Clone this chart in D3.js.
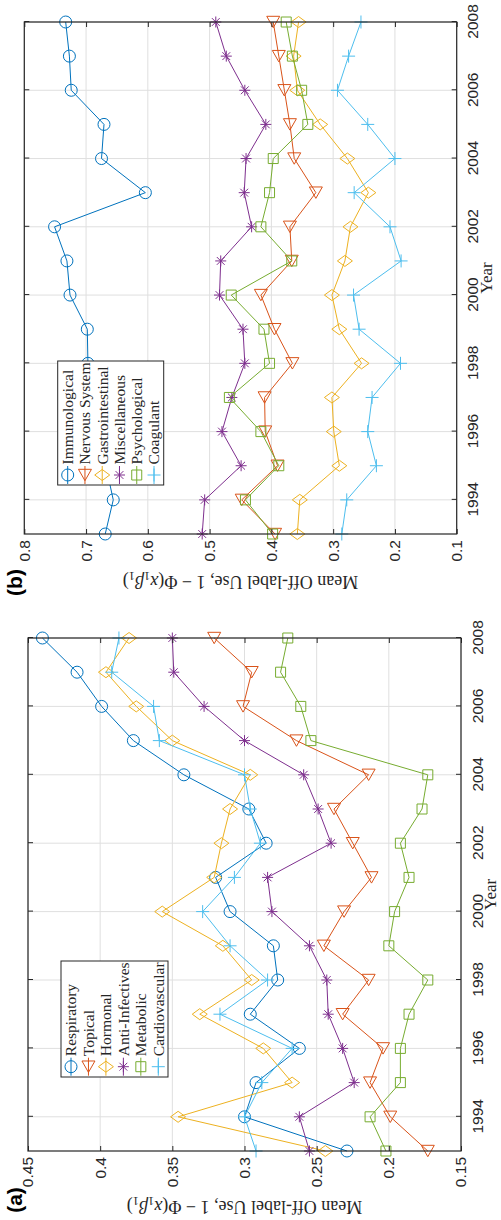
<!DOCTYPE html>
<html>
<head>
<meta charset="utf-8">
<title>Mean off-label use by category</title>
<script src="https://cdn.jsdelivr.net/npm/d3@7"></script>
<style>
  body { margin: 0; background: #fff; }
  .tick text { font-family: "Liberation Sans", Arial, sans-serif; font-size: 15.5px; fill: #262626; }
  .serif { font-family: "Liberation Serif", "Times New Roman", serif; fill: #262626; }
</style>
</head>
<body>
<svg id="fig" width="501" height="1220"></svg>
<script>
var years = [1993, 1994, 1995, 1996, 1997, 1998, 1999, 2000, 2001, 2002, 2003, 2004, 2005, 2006, 2007, 2008];
var yearTicks = [1994, 1996, 1998, 2000, 2002, 2004, 2006, 2008];

// panel (a)
var namesA = ["Respiratory", "Topical", "Hormonal", "Anti-Infectives", "Metabolic", "Cardiovascular"];
var respiratory    = [0.229, 0.300, 0.292, 0.262, 0.296, 0.277, 0.280, 0.310, 0.320, 0.285, 0.297, 0.342, 0.377, 0.399, 0.416, 0.440];
var topical        = [0.173, 0.199, 0.213, 0.204, 0.232, 0.214, 0.245, 0.231, 0.212, 0.225, 0.238, 0.214, 0.264, 0.301, 0.295, 0.321];
var hormonal       = [0.244, 0.346, 0.267, 0.287, 0.331, 0.295, 0.315, 0.357, 0.321, 0.316, 0.310, 0.296, 0.350, 0.375, 0.396, 0.380];
var antiInfectives = [0.255, 0.262, 0.224, 0.232, 0.242, 0.243, 0.255, 0.281, 0.284, 0.240, 0.249, 0.259, 0.300, 0.328, 0.349, 0.350];
var metabolic      = [0.202, 0.213, 0.192, 0.192, 0.186, 0.173, 0.200, 0.196, 0.186, 0.192, 0.177, 0.173, 0.254, 0.261, 0.275, 0.270];
var cardiovascular = [0.292, 0.300, 0.288, 0.267, 0.317, 0.284, 0.310, 0.329, 0.307, 0.289, 0.296, 0.300, 0.359, 0.363, 0.392, 0.387];
var ticksA = [0.15, 0.2, 0.25, 0.3, 0.35, 0.4, 0.45];

// panel (b)
var namesB = ["Immunological", "Nervous System", "Gastrointestinal", "Miscellaneous", "Psychological", "Coagulant"];
var immunological    = [0.669, 0.656, 0.668, 0.685, 0.700, 0.697, 0.698, 0.726, 0.731, 0.751, 0.604, 0.675, 0.671, 0.724, 0.727, 0.733];
var nervousSystem    = [0.394, 0.448, 0.390, 0.410, 0.411, 0.366, 0.395, 0.417, 0.367, 0.370, 0.328, 0.363, 0.370, 0.379, 0.388, 0.397];
var gastrointestinal = [0.358, 0.354, 0.290, 0.299, 0.302, 0.254, 0.290, 0.302, 0.281, 0.272, 0.243, 0.277, 0.321, 0.358, 0.364, 0.356];
var miscellaneous    = [0.512, 0.508, 0.449, 0.480, 0.464, 0.443, 0.446, 0.484, 0.482, 0.432, 0.444, 0.441, 0.409, 0.443, 0.473, 0.490];
var psychological    = [0.398, 0.442, 0.388, 0.417, 0.468, 0.403, 0.412, 0.465, 0.367, 0.417, 0.403, 0.397, 0.341, 0.351, 0.366, 0.376];
var coagulant        = [0.286, 0.278, 0.230, 0.244, 0.237, 0.191, 0.258, 0.267, 0.190, 0.208, 0.266, 0.200, 0.244, 0.293, 0.275, 0.255];
var ticksB = [0.1, 0.2, 0.3, 0.4, 0.5, 0.6, 0.7, 0.8];

var colors = ["#0072BD", "#D95319", "#EDB120", "#7E2F8E", "#77AC30", "#4DBEEE"];
var shapes = ["circle", "triangle", "diamond", "star", "square", "plus"];

var svg = d3.select("#fig");
svg.append("rect").attr("width", 501).attr("height", 1220).attr("fill", "#fff");

function markerPath(s) {
  if (s == "circle") return "M6,0A6,6 0 1,1 -6,0A6,6 0 1,1 6,0Z";
  if (s == "triangle") return "M-5.7,0L5.7,-6.5L5.7,6.5Z";   // points left, shows pointing down after rotation
  if (s == "diamond") return "M0,-7.5L5.5,0L0,7.5L-5.5,0Z";
  if (s == "square") return "M-5,-5H5V5H-5Z";
  if (s == "plus") return "M-6.5,0H6.5M0,-6.5V6.5";
  return "M-5.5,0H5.5M0,-5.5V5.5M-3.9,-3.9L3.9,3.9M-3.9,3.9L3.9,-3.9";
}

function drawPanel(p) {
  var W = p.w, H = p.h;
  // the figure is drawn upright then turned a quarter turn counter-clockwise
  var g = svg.append("g").attr("transform", "translate(" + p.tx + "," + p.ty + ") rotate(-90)");
  var x = d3.scaleLinear().domain([1993, 2008]).range([0, W]);
  var y = d3.scaleLinear().domain(p.domain).range([H, 0]);

  // grid
  g.append("g").selectAll("line").data(yearTicks).join("line")
    .attr("x1", d => x(d)).attr("x2", d => x(d)).attr("y1", 0).attr("y2", H)
    .attr("stroke", "#dfdfdf").attr("stroke-width", 1);
  g.append("g").selectAll("line").data(p.ticks).join("line")
    .attr("x1", 0).attr("x2", W).attr("y1", d => y(d)).attr("y2", d => y(d))
    .attr("stroke", "#dfdfdf").attr("stroke-width", 1);

  // series
  p.series.forEach(function (vals, i) {
    var pts = years.map((yr, j) => [yr, vals[j]]);
    g.append("path").datum(pts)
      .attr("d", d3.line().x(d => x(d[0])).y(d => y(d[1])))
      .attr("fill", "none").attr("stroke", colors[i]).attr("stroke-width", 1);
    g.append("g").selectAll("path").data(pts).join("path")
      .attr("transform", d => "translate(" + x(d[0]) + "," + y(d[1]) + ")")
      .attr("d", markerPath(shapes[i]))
      .attr("fill", "none").attr("stroke", colors[i]).attr("stroke-width", 1);
  });

  // axes, ticks inside on all four sides
  var axL = g.append("g").call(d3.axisLeft(y).tickValues(p.ticks).tickFormat(d3.format(""))
    .tickSizeInner(-5).tickSizeOuter(0).tickPadding(6));
  var axB = g.append("g").attr("transform", "translate(0," + H + ")")
    .call(d3.axisBottom(x).tickValues(yearTicks).tickFormat(d3.format("d"))
    .tickSizeInner(-5).tickSizeOuter(0).tickPadding(10.5));
  var axR = g.append("g").attr("transform", "translate(" + W + ",0)")
    .call(d3.axisRight(y).tickValues(p.ticks).tickFormat("").tickSizeInner(-5).tickSizeOuter(0));
  var axT = g.append("g")
    .call(d3.axisTop(x).tickValues(yearTicks).tickFormat("").tickSizeInner(-5).tickSizeOuter(0));
  [axL, axB, axR, axT].forEach(function (a) {
    a.attr("font-family", null).attr("font-size", null);
    a.select(".domain").remove();
    a.selectAll(".tick line").attr("stroke", "#262626").attr("stroke-width", 1);
  });
  g.append("rect").attr("width", W).attr("height", H)
    .attr("fill", "none").attr("stroke", "#262626").attr("stroke-width", 1.2);

  // axis titles
  g.append("text").attr("class", "serif").attr("x", W / 2).attr("y", H + 35)
    .attr("text-anchor", "middle").attr("font-size", 17).text("Year");
  var yl = g.append("text").attr("class", "serif")
    .attr("transform", "translate(" + p.ylab + "," + H / 2 + ") rotate(-90)")
    .attr("text-anchor", "middle").attr("font-size", 18);
  yl.append("tspan").text("Mean Off-label Use, 1 \u2212 \u03A6(");
  yl.append("tspan").attr("font-style", "italic").text("x");
  yl.append("tspan").attr("font-size", "0.7em").attr("dy", 4).text("1");
  yl.append("tspan").attr("font-style", "italic").attr("dy", -4).text("\u03B2");
  yl.append("tspan").attr("font-size", "0.7em").attr("dy", 4).text("1");
  yl.append("tspan").attr("dy", -4).text(")");

  g.append("text").attr("x", p.tagX).attr("y", p.tagY).attr("dy", "0.35em")
    .attr("text-anchor", "middle")
    .attr("font-family", "'Liberation Sans', Arial, sans-serif")
    .attr("font-weight", "bold").attr("font-size", 21).attr("fill", "#000")
    .text(p.tag);

  // legend
  var lg = g.append("g").attr("transform", "translate(" + p.leg[0] + "," + p.leg[1] + ")");
  lg.append("rect").attr("width", p.leg[2]).attr("height", p.leg[3])
    .attr("fill", "#fff").attr("stroke", "#262626").attr("stroke-width", 1);
  var rows = lg.selectAll("g").data(p.names).join("g")
    .attr("transform", (d, i) => "translate(0," + (10 + i * p.rowH) + ")");
  rows.append("line").attr("x1", p.mx - 9).attr("x2", p.mx + 9)
    .attr("stroke", (d, i) => colors[i]).attr("stroke-width", 1);
  rows.append("path").attr("transform", "translate(" + p.mx + ",0)")
    .attr("d", (d, i) => markerPath(shapes[i]))
    .attr("fill", "none").attr("stroke", (d, i) => colors[i]).attr("stroke-width", 1);
  rows.append("text").attr("class", "serif").attr("x", p.mx + 10.5).attr("dy", "0.35em")
    .attr("font-size", 15.5).text(d => d);
}

drawPanel({
  tx: 24.3, ty: 534, w: 512, h: 432.4, domain: [0.1, 0.8], ticks: ticksB,
  series: [immunological, nervousSystem, gastrointestinal, miscellaneous, psychological, coagulant],
  names: namesB, leg: [49, 33.4, 124, 106], rowH: 17.26, mx: 10,
  ylab: -42, tag: "(b)", tagX: -48.5, tagY: -9.3
});

drawPanel({
  tx: 28, ty: 1151, w: 513, h: 433, domain: [0.15, 0.45], ticks: ticksA,
  series: [respiratory, topical, hormonal, antiInfectives, metabolic, cardiovascular],
  names: namesA, leg: [74, 33, 116, 107], rowH: 17.46, mx: 10.3,
  ylab: -50, tag: "(a)", tagX: -49, tagY: -13
});
</script>
</body>
</html>
